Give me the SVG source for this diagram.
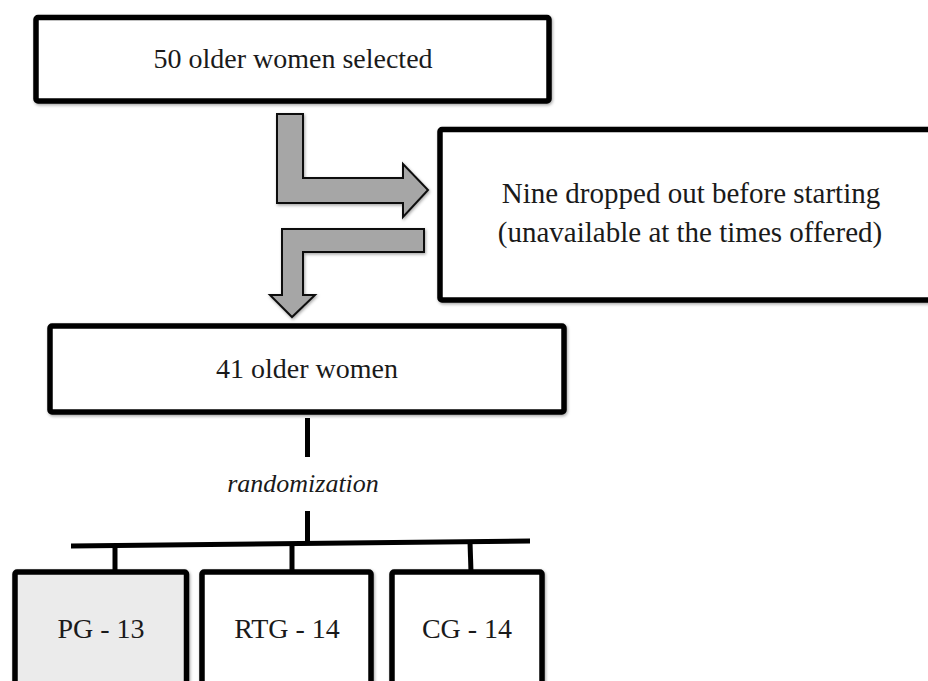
<svg xmlns="http://www.w3.org/2000/svg" width="928" height="681" viewBox="0 0 928 681">
  <defs>
    <filter id="sh" x="-10%" y="-10%" width="120%" height="120%">
      <feDropShadow dx="1" dy="1.5" stdDeviation="1.5" flood-color="#000" flood-opacity="0.35"/>
    </filter>
    <style>
      .box { fill: #ffffff; stroke: #000; stroke-width: 5.5; stroke-linejoin: round; }
      .shade { fill: #ebebeb; }
      .arrow { fill: #a6a6a6; stroke: #111; stroke-width: 2; stroke-linejoin: miter; }
      .line { stroke: #000; stroke-width: 5; fill: none; stroke-linecap: butt; }
      .t { font-family: "Liberation Serif", "Times New Roman", serif; font-size: 28px; fill: #1a1a1a; text-anchor: middle; }
      .big { font-size: 29px; }
      .it { font-style: italic; font-size: 26px; }
    </style>
  </defs>
  <rect width="928" height="681" fill="#ffffff"/>

  <g id="node-selected">
    <rect class="box" x="36" y="17.5" width="513" height="83.5" rx="2" filter="url(#sh)"/>
    <text class="t" x="293" y="68">50 older women selected</text>
  </g>

  <g id="node-dropped">
    <rect class="box" x="440" y="129.5" width="500" height="170.5" rx="2" filter="url(#sh)"/>
    <text class="t big" x="691" y="203">Nine dropped out before starting</text>
    <text class="t big" x="690" y="242">(unavailable at the times offered)</text>
  </g>

  <g id="node-41">
    <rect class="box" x="50" y="326" width="514" height="86" rx="2" filter="url(#sh)"/>
    <text class="t" x="307" y="378">41 older women</text>
  </g>

  <g id="node-pg">
    <rect class="box shade" x="15" y="572" width="171.5" height="130" rx="2" filter="url(#sh)"/>
    <text class="t" x="101" y="638">PG - 13</text>
  </g>

  <g id="node-rtg">
    <rect class="box" x="202" y="572" width="169" height="130" rx="2" filter="url(#sh)"/>
    <text class="t" x="287" y="638">RTG - 14</text>
  </g>

  <g id="node-cg">
    <rect class="box" x="392" y="572" width="150" height="130" rx="2" filter="url(#sh)"/>
    <text class="t" x="467" y="638">CG - 14</text>
  </g>

  <g id="connectors">
    <path class="arrow" filter="url(#sh)" d="M277,114 L303,114 L303,178 L403,178 L403,164 L428,190 L403,217 L403,203 L277,203 Z"/>
    <path class="arrow" filter="url(#sh)" d="M424,229 L424,252 L303,252 L303,295 L315,295 L292,317 L270,295 L282,295 L282,229 Z"/>
    <line class="line" x1="307.5" y1="418" x2="307.5" y2="457"/>
    <text class="t it" x="303" y="492">randomization</text>
    <line class="line" x1="307.5" y1="511" x2="307.5" y2="543"/>
    <line class="line" x1="71" y1="546" x2="530" y2="541" stroke-width="5.5"/>
    <line class="line" x1="115" y1="546" x2="115" y2="572"/>
    <line class="line" x1="292" y1="544" x2="292" y2="572"/>
    <line class="line" x1="470" y1="542" x2="471" y2="572"/>
  </g>
</svg>
